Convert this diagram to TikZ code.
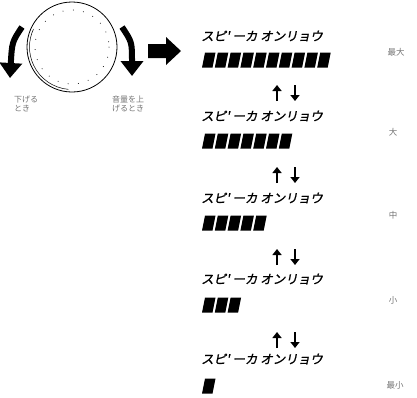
\documentclass[tikz,border=0pt]{standalone}
\usepackage{fontspec}
\newfontfamily\jp{Noto Sans CJK JP}
\newfontfamily\lcd[FakeSlant=0.2,FakeBold=1.2]{Noto Sans CJK JP}
\usetikzlibrary{arrows.meta}

\tikzset{
  lcdtext/.style={anchor=west, inner sep=0pt, font=\lcd\fontsize{12.5}{13}\selectfont},
  sidelabel/.style={inner sep=0pt, text=black!55, font=\jp\fontsize{8.5}{9}\selectfont},
  knoblabel/.style={inner sep=0pt, align=left, text=black!55, font=\jp\fontsize{8}{9}\selectfont},
  updown/.style={line width=1.5pt, -{Triangle[length=6pt,width=9pt]}},
  turn/.style={line width=6pt, -{Triangle[length=15pt,width=22pt]}},
}

% one row of slanted level bars: #1 = centre y, #2 = number of bars
\newcommand\levelbars[2]{%
  \foreach \i in {1,...,#2}
    \fill ({202+12.8*(\i-1)},{#1+7.5}) -- ++(10.5,0) -- ++(3,-15) -- ++(-10.5,0) -- cycle;
}

\begin{document}
\begin{tikzpicture}[x=1pt,y=-1pt]
\useasboundingbox (0,0) rectangle (417,397);

% volume knob
\node[draw, circle, minimum size=90pt, inner sep=0pt, line width=0.8pt] (knob) at (72,47) {};
\draw[line width=0.5pt] (knob.center) ++(95:42.5) arc (95:205:42.5);
\foreach \a in {0,16,...,352}
  \fill (knob.center) ++(\a:37) circle (0.5);

% turning arrows
\coordinate (ltop) at (22,27);
\coordinate (ltip) at (10,78);
\coordinate (rtop) at (122,27);
\coordinate (rtip) at (132,76);
\draw[turn] (ltop) .. controls (12,42) .. (ltip);
\draw[turn] (rtop) .. controls (132,42) .. (rtip);

\node[knoblabel] (down) at (26,104) {下げる\\とき};
\node[knoblabel] (up) at (128,104) {音量を上\\げるとき};

% big arrow
\fill (148,44) -- (166,44) -- (166,37) -- (181,51) -- (166,65) -- (166,58) -- (148,58) -- cycle;

% display rows
\node[lcdtext] (d1) at (201,36) {スピ' ーカ オンリョウ};
\node[lcdtext] (d2) at (201,116) {スピ' ーカ オンリョウ};
\node[lcdtext] (d3) at (201,198) {スピ' ーカ オンリョウ};
\node[lcdtext] (d4) at (201,279) {スピ' ーカ オンリョウ};
\node[lcdtext] (d5) at (201,359) {スピ' ーカ オンリョウ};

\levelbars{60}{10}
\levelbars{141}{7}
\levelbars{223}{5}
\levelbars{305}{3}
\levelbars{386}{1}

% up / down marks between rows
\foreach \y in {93,175,257,340} {
  \draw[updown] (277,\y+8) -- (277,\y-8);
  \draw[updown] (295,\y-8) -- (295,\y+8);
}

% level names
\node[sidelabel] (max) at (396,52) {最大};
\node[sidelabel] (high) at (393,132) {大};
\node[sidelabel] (mid) at (393,215) {中};
\node[sidelabel] (low) at (393,300) {小};
\node[sidelabel] (min) at (395,385) {最小};
\end{tikzpicture}
\end{document}
